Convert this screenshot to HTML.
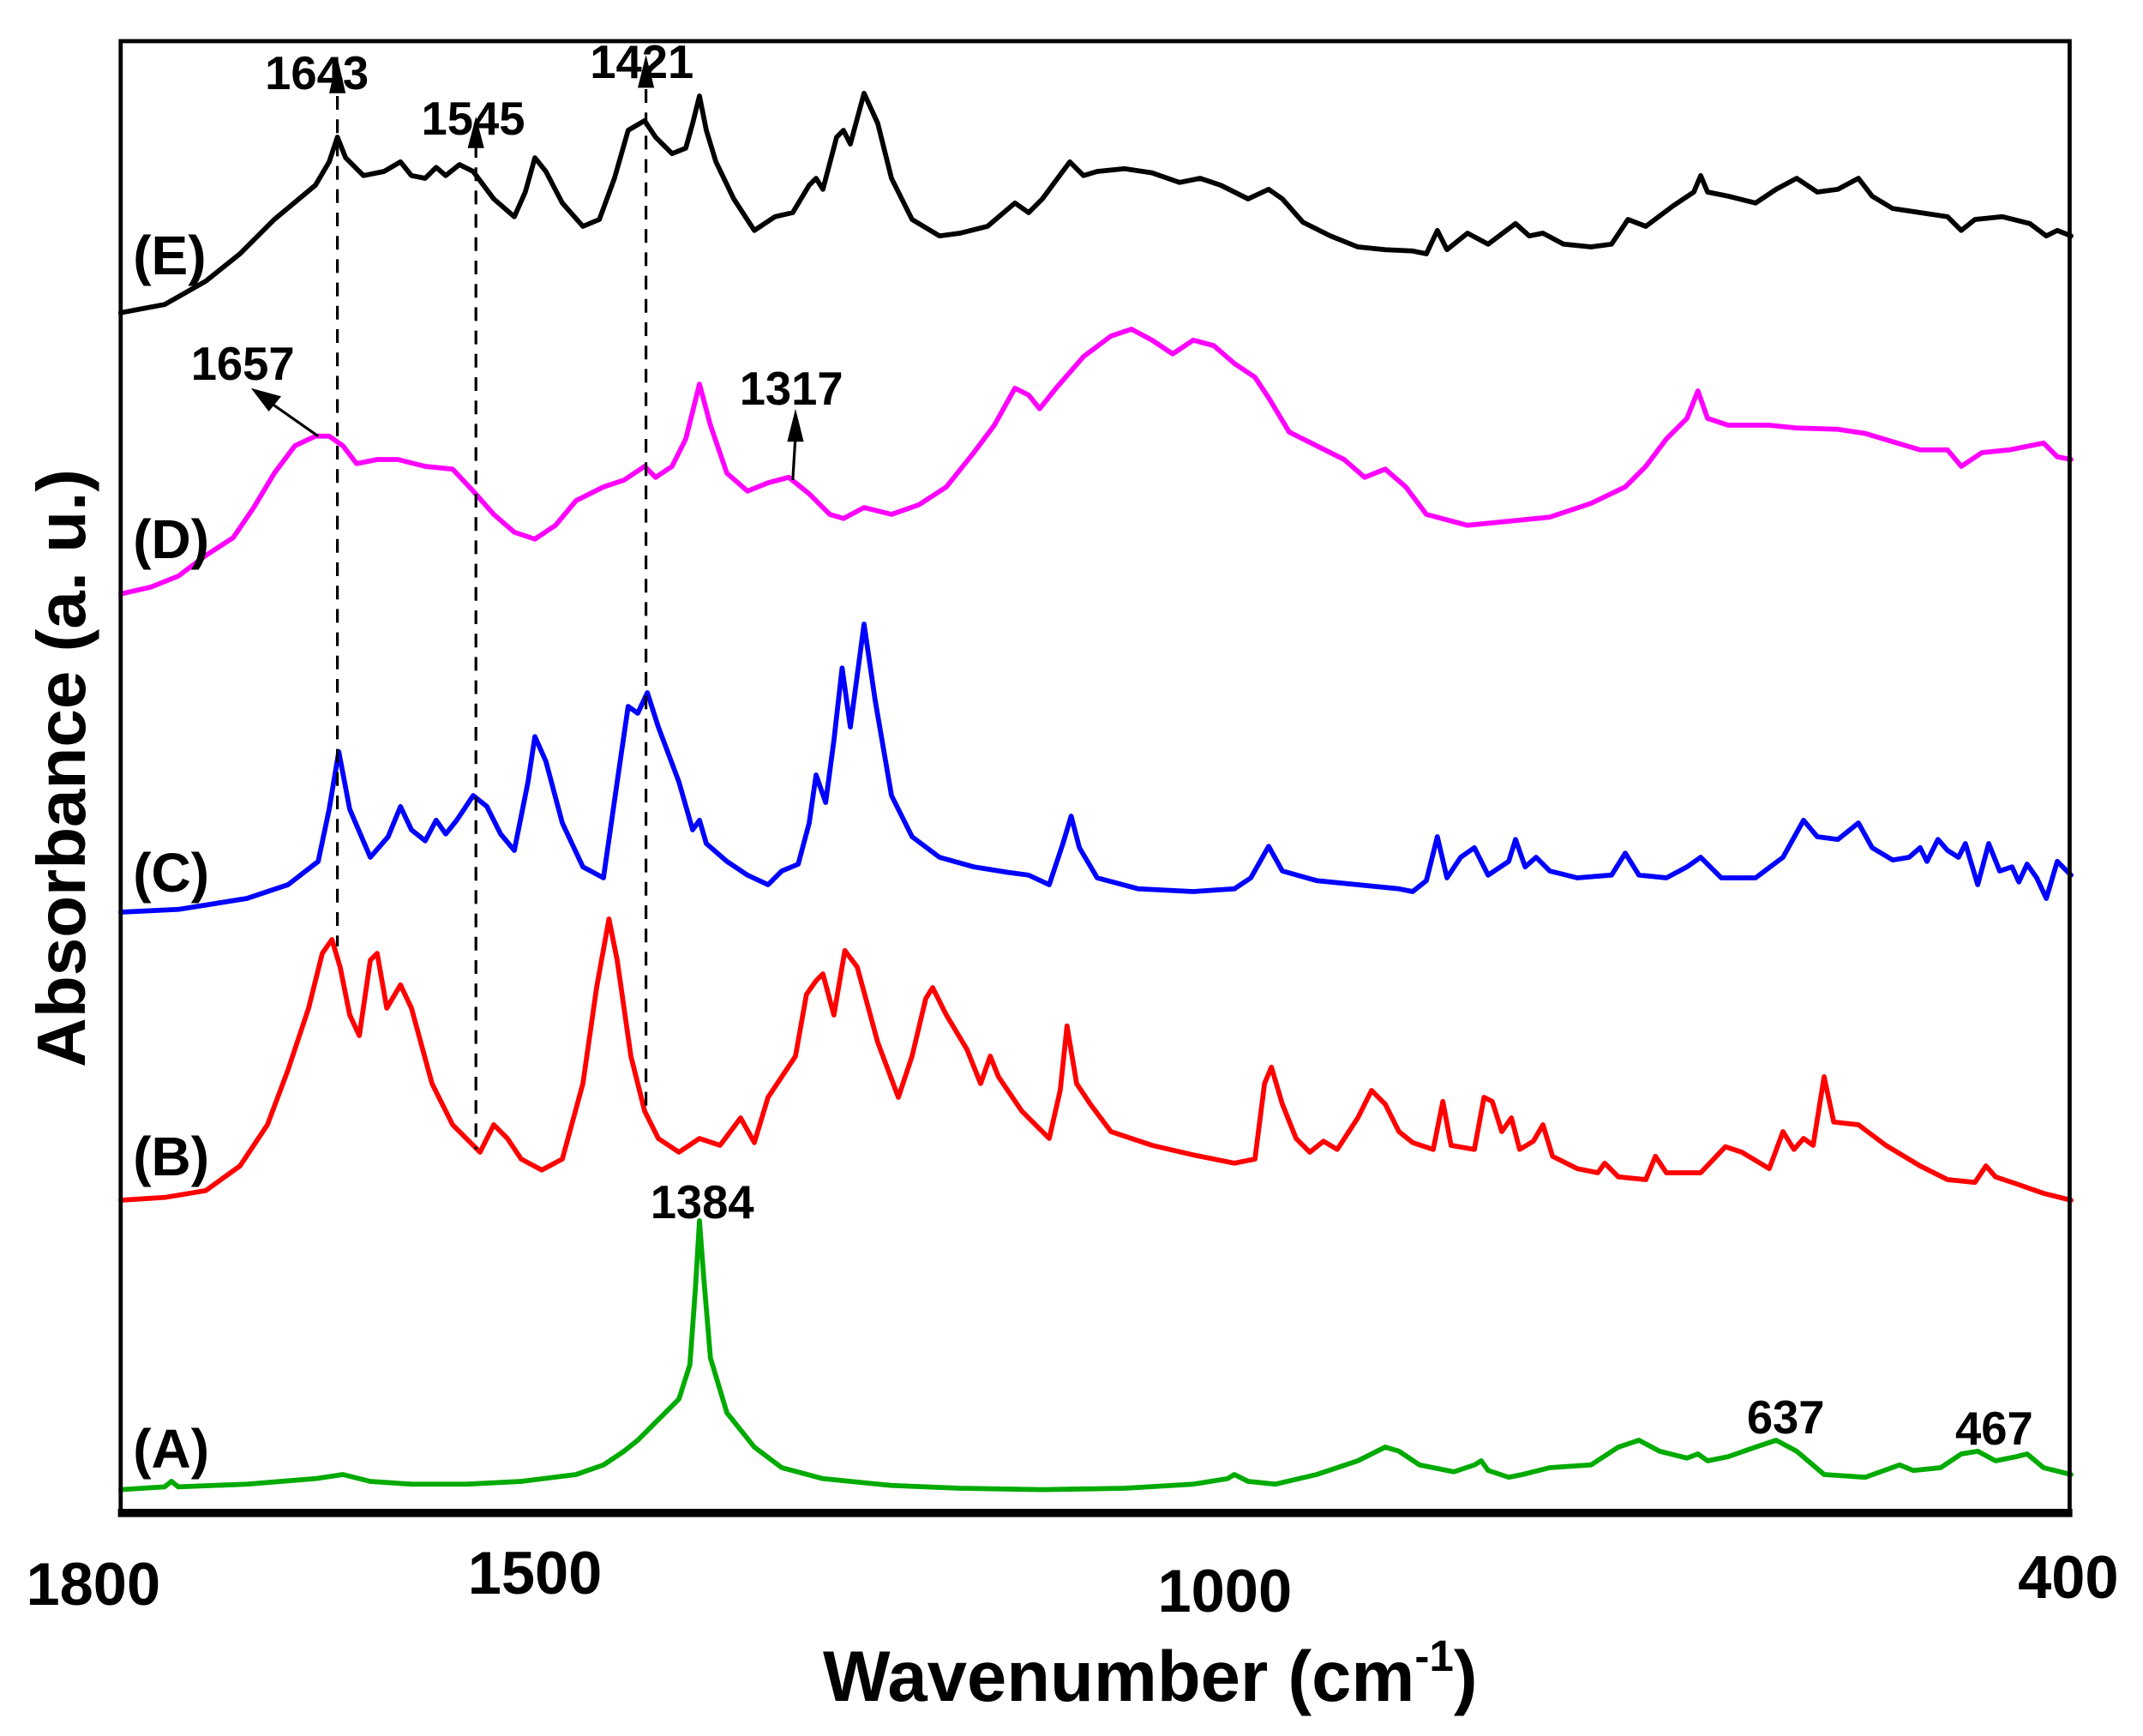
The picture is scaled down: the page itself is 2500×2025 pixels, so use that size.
<!DOCTYPE html>
<html><head><meta charset="utf-8"><style>
html,body{margin:0;padding:0;background:#fff;}
svg{display:block;}
text{font-family:"Liberation Sans",Arial,sans-serif;font-weight:bold;fill:#000;}
</style></head><body>
<svg width="2500" height="2025" viewBox="0 0 1562.5 1265.625" preserveAspectRatio="none" xmlns="http://www.w3.org/2000/svg">
<rect width="1562.5" height="1265.625" fill="#fff"/>
<g fill="none" stroke-width="3.6" stroke-linejoin="round" stroke-linecap="round">
<polyline stroke="#000" points="88,228 120,222 150,205 175,185 200,160 230,135 240,118 246,100 252,115 265,128 280,125 292,118 300,128 310,130 318,122 325,128 335,120 345,125 360,145 375,158 383,140 390,115 398,125 410,148 425,165 437,160 448,130 458,95 470,88 478,100 490,112 500,108 505,90 510,70 515,95 522,118 535,145 550,168 565,158 578,155 590,135 595,130 600,138 610,100 615,95 620,105 630,68 640,90 650,130 665,160 685,172 700,170 720,165 740,148 750,155 760,145 780,118 790,128 800,125 820,123 840,126 860,133 875,130 890,135 910,145 925,138 935,145 950,162 970,172 990,180 1010,182 1030,183 1040,185 1048,168 1055,182 1070,170 1085,178 1105,163 1115,172 1125,170 1140,178 1160,180 1175,178 1187,160 1200,165 1220,150 1235,140 1240,128 1245,140 1260,143 1280,148 1295,138 1310,130 1325,140 1340,138 1355,130 1365,143 1380,152 1400,155 1420,158 1430,168 1440,160 1460,158 1480,163 1492,172 1500,168 1510,172"/>
<polyline stroke="#ff00ff" points="88,433 110,428 130,420 150,405 170,392 185,370 200,345 215,325 230,318 240,318 250,325 260,338 275,335 290,335 310,340 330,342 345,358 360,375 375,388 390,393 405,383 420,365 440,355 455,350 470,340 478,348 490,340 500,320 510,280 518,310 530,345 545,358 560,352 575,348 590,360 605,375 615,378 630,370 650,375 670,368 690,355 710,330 725,310 740,283 750,288 758,298 770,283 790,260 810,245 825,240 840,248 855,258 870,248 885,252 900,265 915,275 925,290 940,315 960,325 980,335 995,348 1010,342 1025,355 1040,375 1070,383 1100,380 1130,377 1160,367 1185,355 1200,340 1215,320 1230,305 1238,285 1245,305 1260,310 1290,310 1310,312 1340,313 1360,316 1380,322 1400,328 1420,328 1430,340 1445,330 1465,328 1490,323 1500,333 1510,335"/>
<polyline stroke="#0000ff" points="88,665 130,663 180,655 210,645 232,628 240,590 247,548 255,590 270,625 283,610 292,588 300,605 310,613 318,598 325,608 333,598 345,580 355,588 365,608 375,620 385,570 390,537 398,555 410,600 425,632 440,640 450,570 458,515 465,520 472,505 480,530 495,570 505,605 510,598 515,615 530,628 545,638 560,645 570,635 582,630 590,600 595,565 602,585 608,540 614,487 620,530 630,455 638,510 650,580 665,610 685,625 710,632 735,636 750,638 765,645 775,615 781,595 787,618 800,640 830,648 870,650 900,648 912,640 925,617 935,635 960,642 990,645 1020,648 1030,650 1040,642 1048,610 1055,640 1065,625 1075,618 1085,638 1100,628 1105,612 1112,632 1120,625 1130,635 1150,640 1175,638 1185,622 1195,638 1215,640 1230,632 1240,625 1255,640 1280,640 1300,625 1315,598 1325,610 1340,612 1355,600 1365,618 1380,627 1392,625 1400,618 1405,628 1413,612 1420,620 1428,625 1433,615 1442,645 1450,615 1458,635 1467,632 1472,643 1478,630 1485,640 1492,655 1500,628 1510,638"/>
<polyline stroke="#ff0000" points="88,875 120,873 150,868 175,850 195,820 210,780 225,735 235,695 242,685 248,705 255,740 262,755 270,700 275,695 282,735 292,718 300,735 315,790 330,820 350,840 360,820 370,830 380,845 395,853 410,845 425,790 435,720 444,670 450,700 460,770 470,810 480,830 495,840 510,830 525,835 540,815 550,833 560,800 570,785 580,770 588,725 595,715 600,710 608,740 616,693 625,705 640,760 655,800 665,770 675,728 680,720 690,740 705,765 715,790 722,770 728,785 745,810 765,830 773,795 778,748 785,790 795,805 810,825 840,835 870,842 900,848 915,845 922,790 927,778 935,805 945,830 955,840 965,832 975,838 990,815 1000,795 1010,805 1020,825 1030,833 1045,838 1052,803 1058,835 1075,838 1082,800 1088,803 1095,825 1102,815 1108,838 1118,832 1125,820 1132,843 1150,852 1165,855 1170,848 1180,858 1200,860 1207,843 1215,855 1240,855 1258,836 1270,840 1290,852 1300,825 1308,838 1315,830 1322,835 1330,785 1337,818 1355,820 1375,835 1400,850 1420,860 1440,862 1448,850 1455,858 1470,863 1490,870 1510,875"/>
<polyline stroke="#00aa00" points="88,1086 120,1084 125,1080 130,1084 180,1082 230,1078 250,1075 270,1080 300,1082 340,1082 380,1080 420,1075 440,1068 455,1058 465,1050 480,1035 495,1020 503,995 507,940 510,890 513,930 518,990 530,1030 550,1055 570,1070 600,1078 650,1083 700,1085 760,1086 820,1085 870,1082 895,1078 900,1075 910,1080 930,1082 960,1075 990,1065 1010,1055 1020,1058 1035,1068 1060,1073 1075,1068 1080,1065 1085,1072 1100,1077 1110,1075 1130,1070 1160,1068 1180,1055 1195,1050 1210,1058 1230,1063 1238,1060 1245,1065 1260,1062 1280,1055 1295,1050 1310,1058 1330,1075 1360,1077 1385,1068 1395,1072 1415,1070 1430,1060 1442,1058 1455,1065 1470,1062 1478,1060 1490,1070 1510,1075"/>
</g>
<g stroke="#000" stroke-width="2" stroke-dasharray="10,7" fill="none">
<line x1="246" y1="70" x2="246" y2="690"/>
<line x1="347" y1="105" x2="347" y2="838"/>
<line x1="471" y1="65" x2="471" y2="808"/>
</g>
<g stroke="#000" stroke-width="2" fill="none">
<line x1="232" y1="318" x2="192" y2="290"/>
<line x1="578" y1="350" x2="580" y2="318"/>
</g>
<g fill="#000">
<polygon points="246,42 240,68 252,68"/>
<polygon points="347,85 341,108 353,108"/>
<polygon points="471,40 465,64 477,64"/>
<polygon points="183,283 205,289 196,300"/>
<polygon points="580,298 574,322 586,322"/>
</g>
<rect x="88" y="30" width="1421" height="1073" fill="none" stroke="#000" stroke-width="3"/>
<line x1="86" y1="1103" x2="1511" y2="1103" stroke="#000" stroke-width="6"/>
<g font-size="34" text-anchor="middle">
<text x="231" y="65">1643</text>
<text x="345" y="98">1545</text>
<text x="468" y="57">1421</text>
<text x="177" y="277">1657</text>
<text x="577" y="295">1317</text>
<text x="512" y="888">1384</text>
<text x="1302" y="1045">637</text>
<text x="1454" y="1053">467</text>
</g>
<g font-size="40">
<text x="97" y="200">(E)</text>
<text x="97" y="407">(D)</text>
<text x="97" y="650">(C)</text>
<text x="97" y="857">(B)</text>
<text x="97" y="1070">(A)</text>
</g>
<g font-size="44" text-anchor="middle">
<text x="68" y="1170">1800</text>
<text x="390" y="1162">1500</text>
<text x="893" y="1175">1000</text>
<text x="1508" y="1165">400</text>
</g>
<text x="600" y="1240" font-size="52">Wavenumber (cm<tspan font-size="32" dy="-22">-1</tspan><tspan dy="22">)</tspan></text>
<text transform="translate(62,560) rotate(-90)" font-size="50" text-anchor="middle">Absorbance (a. u.)</text>
</svg>
</body></html>
